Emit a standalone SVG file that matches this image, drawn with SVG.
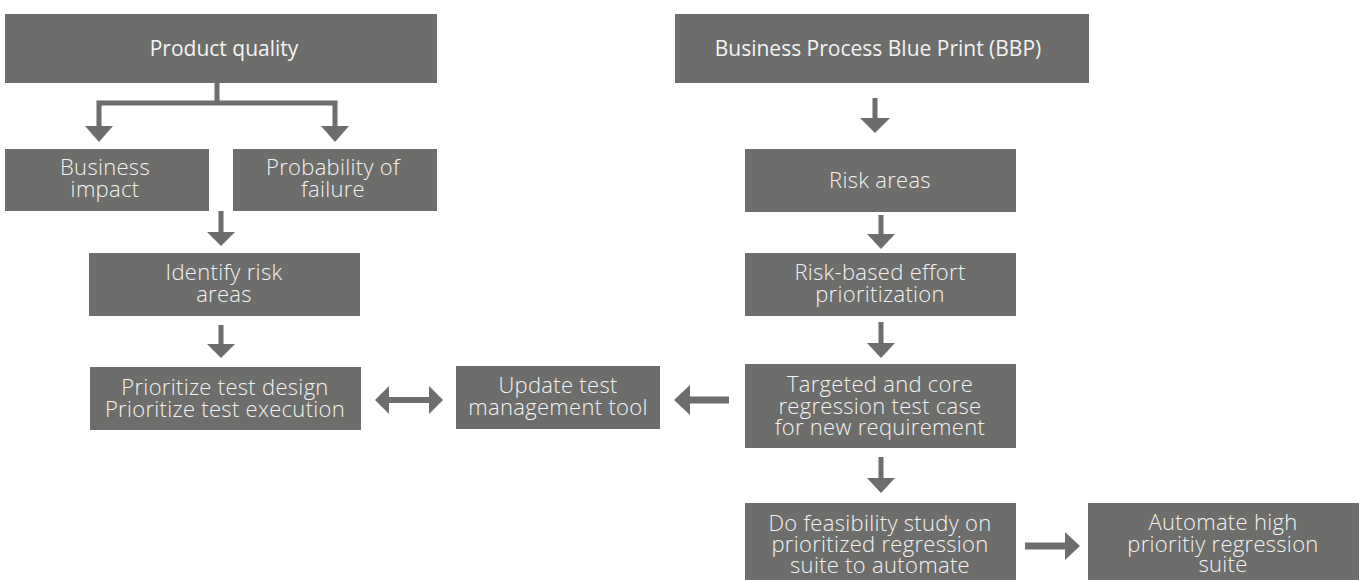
<svg xmlns="http://www.w3.org/2000/svg" width="1362" height="580" viewBox="0 0 1362 580">
  <style>
    .box { fill: #6d6d6b; }
    .lbl { font-family: "Open Sans", "Noto Sans", "Liberation Sans", sans-serif; font-size: 22px; font-weight: 300; letter-spacing: 0.3px; fill: #f3f3f3; text-anchor: middle; }
    .head { font-family: "Open Sans", "Noto Sans", "Liberation Sans", sans-serif; font-size: 21px; font-weight: 500; fill: #f3f3f3; text-anchor: middle; }
    .shaft { fill: none; stroke: #6d6d6b; stroke-width: 5; stroke-linejoin: miter; }
    .shaft-h { fill: none; stroke: #6d6d6b; stroke-width: 7; }
    .tip { fill: #6d6d6b; }
  </style>

  <!-- nodes: left column -->
  <g id="product-quality">
    <rect class="box" x="5" y="14" width="432" height="69"/>
    <text class="head" x="224" y="56">Product quality</text>
  </g>
  <g id="business-impact">
    <rect class="box" x="5" y="149" width="204" height="62"/>
    <text class="lbl" x="105" y="175">Business</text>
    <text class="lbl" x="105" y="197">impact</text>
  </g>
  <g id="probability-of-failure">
    <rect class="box" x="233" y="149" width="204" height="62"/>
    <text class="lbl" x="333" y="175">Probability of</text>
    <text class="lbl" x="333" y="197">failure</text>
  </g>
  <g id="identify-risk-areas">
    <rect class="box" x="89" y="253" width="271" height="63"/>
    <text class="lbl" x="224" y="280">Identify risk</text>
    <text class="lbl" x="224" y="302">areas</text>
  </g>
  <g id="prioritize-tests">
    <rect class="box" x="90" y="367" width="271" height="63"/>
    <text class="lbl" x="225" y="395">Prioritize test design</text>
    <text class="lbl" x="225" y="417">Prioritize test execution</text>
  </g>
  <g id="update-tool">
    <rect class="box" x="456" y="366" width="204" height="63"/>
    <text class="lbl" x="558" y="393">Update test</text>
    <text class="lbl" x="558" y="415">management tool</text>
  </g>

  <!-- nodes: right column -->
  <g id="bbp">
    <rect class="box" x="675" y="14" width="414" height="69"/>
    <text class="head" x="878" y="56">Business Process Blue Print (BBP)</text>
  </g>
  <g id="risk-areas">
    <rect class="box" x="745" y="149" width="271" height="63"/>
    <text class="lbl" x="880" y="188">Risk areas</text>
  </g>
  <g id="risk-based-effort">
    <rect class="box" x="745" y="253" width="271" height="63"/>
    <text class="lbl" x="880" y="280">Risk-based effort</text>
    <text class="lbl" x="880" y="302">prioritization</text>
  </g>
  <g id="targeted-regression">
    <rect class="box" x="745" y="364" width="271" height="84"/>
    <text class="lbl" x="880" y="392">Targeted and core</text>
    <text class="lbl" x="880" y="413.5">regression test case</text>
    <text class="lbl" x="880" y="435">for new requirement</text>
  </g>
  <g id="feasibility-study">
    <rect class="box" x="745" y="503" width="271" height="77"/>
    <text class="lbl" x="880" y="531">Do feasibility study on</text>
    <text class="lbl" x="880" y="552">prioritized regression</text>
    <text class="lbl" x="880" y="573">suite to automate</text>
  </g>
  <g id="automate-suite">
    <rect class="box" x="1088" y="503" width="271" height="77"/>
    <text class="lbl" x="1223" y="530">Automate high</text>
    <text class="lbl" x="1223" y="552">prioritiy regression</text>
    <text class="lbl" x="1223" y="572">suite</text>
  </g>

  <!-- connectors -->
  <g id="connectors">
    <!-- product quality splits into two branches -->
    <path class="shaft" d="M217 83 V103"/>
    <path class="shaft" d="M99 127 V103 H335 V127"/>
    <polygon class="tip" points="85,126 113,126 99,142"/>
    <polygon class="tip" points="321,126 349,126 335,142"/>

    <!-- down arrows, left column -->
    <path class="shaft" d="M221 211 V233"/>
    <polygon class="tip" points="207,232 235,232 221,246"/>
    <path class="shaft" d="M221 325 V345"/>
    <polygon class="tip" points="207,344 235,344 221,358"/>

    <!-- down arrows, right column -->
    <path class="shaft" d="M875 98 V119"/>
    <polygon class="tip" points="860,118 890,118 875,133"/>
    <path class="shaft" d="M881 215 V235"/>
    <polygon class="tip" points="867,234 895,234 881,249"/>
    <path class="shaft" d="M881 322 V344"/>
    <polygon class="tip" points="867,343 895,343 881,358"/>
    <path class="shaft" d="M881 457 V479"/>
    <polygon class="tip" points="867,478 895,478 881,493"/>

    <!-- two-way link between prioritization and tool update -->
    <path class="shaft-h" style="stroke-width:6" d="M388 400 H430"/>
    <polygon class="tip" points="375,400 389,386 389,414"/>
    <polygon class="tip" points="443,400 429,386 429,414"/>

    <!-- targeted regression feeds the tool update -->
    <path class="shaft-h" d="M689 400 H729"/>
    <polygon class="tip" points="674,400 690,385 690,415"/>

    <!-- feasibility study leads to automation -->
    <path class="shaft-h" d="M1025 546 H1066"/>
    <polygon class="tip" points="1080,546 1065,532 1065,560"/>
  </g>
</svg>
